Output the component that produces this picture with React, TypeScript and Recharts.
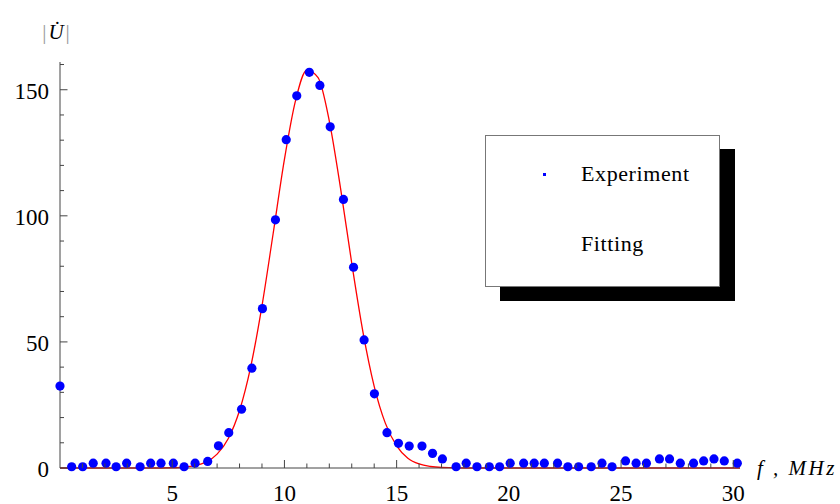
import React from 'react';
import { ComposedChart, Scatter, Line, XAxis, YAxis, Legend, Label } from 'recharts';

// measured points: frequency (MHz) and |U|
const freqMHz = [
  0, 0.52, 1.01, 1.48, 2.05, 2.5, 2.97, 3.57, 4.04, 4.5, 5.05, 5.53, 6.02, 6.58,
  7.06, 7.52, 8.09, 8.55, 9.02, 9.6, 10.08, 10.55, 11.11, 11.58, 12.04, 12.63,
  13.08, 13.55, 14.01, 14.57, 15.08, 15.56, 16.13, 16.6, 17.04, 17.65, 18.1,
  18.58, 19.13, 19.59, 20.06, 20.66, 21.13, 21.58, 22.17, 22.63, 23.11, 23.67,
  24.15, 24.6, 25.2, 25.67, 26.13, 26.71, 27.16, 27.64, 28.23, 28.68, 29.14,
  29.6, 30.18,
];
const amplitude = [
  32.5, 0.5, 0.5, 1.9, 1.9, 0.5, 1.9, 0.5, 1.9, 1.9, 1.9, 0.5, 1.9, 2.6,
  8.8, 14, 23.3, 39.6, 63.2, 98.4, 130.2, 147.6, 156.9, 151.7, 135.3, 106.5,
  79.6, 50.8, 29.4, 14, 9.8, 8.7, 8.7, 5.8, 3.6, 0.5, 1.9,
  0.5, 0.5, 0.5, 1.9, 1.9, 1.9, 1.9, 1.9, 0.5, 0.5, 0.5,
  1.9, 0.5, 2.8, 1.9, 1.9, 3.6, 3.6, 1.9, 1.9, 2.8, 3.6,
  2.8, 1.9,
];

// fitted curve
const fitFreq = [
  0, 4, 5, 5.5, 6, 6.5, 7, 7.5, 8, 8.5, 9, 9.5, 10, 10.5, 11, 11.5, 12, 12.5,
  13, 13.5, 14, 14.5, 15, 15.5, 16, 16.5, 17, 17.5, 18, 30.3,
];
const fitAmplitude = [
  0, 0, 0.1, 0.3, 0.9, 2.3, 5.5, 11.7, 22.8, 40.2, 64.3, 93.1, 122.4, 145.9,
  157.8, 154.8, 137.6, 111, 81.2, 53.9, 32.4, 17.7, 8.8, 3.9, 1.6, 0.6, 0.2,
  0.1, 0, 0,
];

const xTicks = [
  1, 2, 3, 4, 5, 6, 7, 8, 9, 10, 11, 12, 13, 14, 15, 16, 17, 18, 19, 20, 21,
  22, 23, 24, 25, 26, 27, 28, 29, 30,
];
const xTickLabels = [5, 10, 15, 20, 25, 30];
const yTicks = [0, 10, 20, 30, 40, 50, 60, 70, 80, 90, 100, 110, 120, 130, 140, 150, 160];
const yTickLabels = [0, 50, 100, 150];

const experimentData = freqMHz.map((f, i) => ({ f, u: amplitude[i] }));
const fitData = fitFreq.map((f, i) => ({ f, u: fitAmplitude[i] }));

const FONT = '"Liberation Serif", "DejaVu Serif", serif';
const AXIS = '#444';

const XTick = (props: any) => {
  const { x, y, payload } = props;
  const major = xTickLabels.includes(payload.value);
  return (
    <g>
      <line x1={x} y1={y} x2={x} y2={y - (major ? 8 : 4.5)} stroke={AXIS} strokeWidth={1} />
      {major && (
        <text x={x} y={y + 32.5} textAnchor="middle" fontFamily={FONT} fontSize={23} fill="#000">
          {payload.value}
        </text>
      )}
    </g>
  );
};

const YTick = (props: any) => {
  const { x, y, payload } = props;
  const major = yTickLabels.includes(payload.value);
  return (
    <g>
      <line x1={x} y1={y} x2={x + (major ? 7.5 : 4)} y2={y} stroke={AXIS} strokeWidth={1} />
      {major && (
        <text x={x - 11} y={y + 9} textAnchor="end" fontFamily={FONT} fontSize={23} fill="#000">
          {payload.value}
        </text>
      )}
    </g>
  );
};

const Dot = (props: any) => <circle cx={props.cx} cy={props.cy} r={4.6} fill="#0000ff" />;

const LegendBox = () => (
  <div
    style={{
      width: 233,
      height: 150,
      background: '#fff',
      border: '1px solid #777',
      boxShadow: '15px 14px 0 #000',
      position: 'relative',
      fontFamily: FONT,
      fontSize: 22,
      color: '#000',
    }}
  >
    <div style={{ position: 'absolute', left: 57, top: 37, width: 3, height: 3, background: '#0000ff' }} />
    <div style={{ position: 'absolute', left: 95, top: 25, lineHeight: '26px', letterSpacing: 0.6 }}>Experiment</div>
    <div style={{ position: 'absolute', left: 95, top: 95, lineHeight: '26px', letterSpacing: 0.6 }}>Fitting</div>
  </div>
);

export default function App() {
  return (
    <div style={{ position: 'absolute', left: 0, top: 0, width: 840, height: 504, background: '#fff' }}>
      <ComposedChart width={840} height={504} margin={{ top: 62, right: 100, bottom: 0, left: 0 }}>
        <XAxis
          dataKey="f"
          type="number"
          domain={[0, 30.3]}
          ticks={xTicks}
          interval={0}
          height={36}
          axisLine={{ stroke: AXIS, strokeWidth: 1 }}
          tickLine={false}
          tickSize={0}
          tickMargin={0}
          tick={<XTick />}
        >
          <Label
            content={() => (
              <text x={757} y={475} fontFamily={FONT} fontSize={21} fontStyle="italic" letterSpacing={2.5} fill="#000">
                f , MHz
              </text>
            )}
          />
        </XAxis>
        <YAxis
          dataKey="u"
          type="number"
          domain={[0, 161]}
          ticks={yTicks}
          interval={0}
          width={60}
          axisLine={{ stroke: AXIS, strokeWidth: 1 }}
          tickLine={false}
          tickSize={0}
          tickMargin={0}
          tick={<YTick />}
        >
          <Label
            content={() => (
              <text x={56} y={39} textAnchor="middle" fontFamily={FONT} fontSize={21} fill="#000">
                <tspan fill="#999">|</tspan>
                <tspan fontStyle="italic" dx={2}>U̇</tspan>
                <tspan fill="#999" dx={2}>|</tspan>
              </text>
            )}
          />
        </YAxis>
        <Scatter data={experimentData} dataKey="u" shape={<Dot />} isAnimationActive={false} />
        <Line
          data={fitData}
          dataKey="u"
          type="monotone"
          stroke="#ff0000"
          strokeWidth={1.3}
          dot={false}
          activeDot={false}
          isAnimationActive={false}
        />
        <Legend
          layout="vertical"
          align="center"
          verticalAlign="middle"
          wrapperStyle={{ left: 485, top: 135, width: 235, height: 152 }}
          content={() => <LegendBox />}
        />
      </ComposedChart>
    </div>
  );
}
